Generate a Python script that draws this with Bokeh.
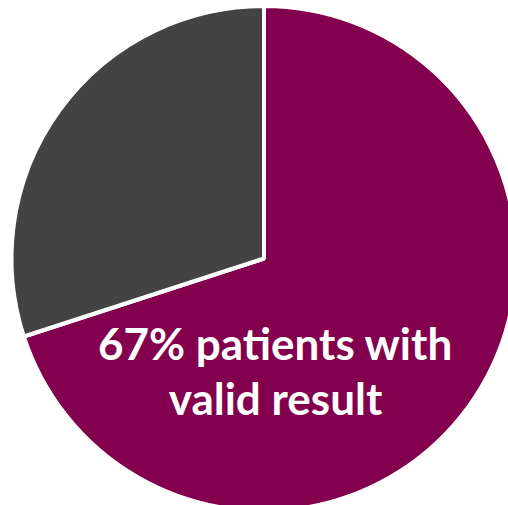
import math
from bokeh.plotting import figure
from bokeh.models import Range1d, ColumnDataSource
from bokeh.core.properties import value
from bokeh.embed import file_html
from bokeh.resources import INLINE

# Data
categories = ["Valid result", "No valid result"]
shares = [70, 30]
colors = ["#82004E", "#434343"]
label_lines = ["67% patients with", "valid result"]

W, H = 508, 505
p = figure(width=W, height=H, output_backend="svg", toolbar_location=None,
           x_range=Range1d(0, W), y_range=Range1d(0, H), min_border=0)
p.axis.visible = False
p.grid.visible = False
p.outline_line_color = None
p.background_fill_color = "white"
p.border_fill_color = "white"

total = sum(shares)
starts, ends = [], []
acc = 0.0
for s in shares:
    starts.append(math.pi / 2 - 2 * math.pi * acc / total)
    acc += s
    ends.append(math.pi / 2 - 2 * math.pi * acc / total)

src = ColumnDataSource(dict(cat=categories, start=starts, end=ends, color=colors))
cx, cy, r = 263.5, 247, 252.5
p.wedge(x=cx, y=cy, radius=r, start_angle="start", end_angle="end",
        direction="clock", fill_color="color", line_color="white", line_width=4,
        source=src)

tsrc = ColumnDataSource(dict(x=[275, 275], y=[163, 108], t=label_lines))
p.text(x="x", y="y", text="t", source=tsrc, text_color="white",
       text_font=value("Lato"), text_font_style="bold", text_font_size="44px",
       text_align="center", text_baseline="middle")

open("out.html", "w").write(file_html(p, INLINE))
